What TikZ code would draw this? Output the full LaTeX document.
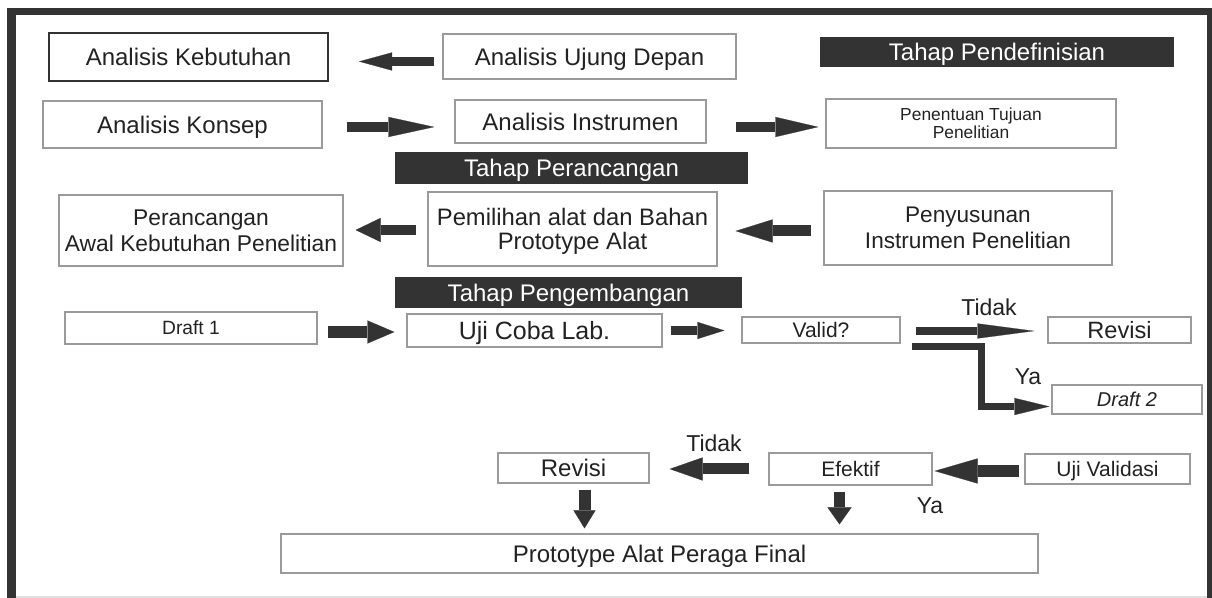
\documentclass[tikz,border=0pt]{standalone}
\usepackage{fontspec}
\setmainfont{Liberation Sans}
\usetikzlibrary{arrows.meta,calc}
\definecolor{inkgray}{HTML}{333333}
\definecolor{boxline}{HTML}{9A9A9A}
\definecolor{textgray}{HTML}{222222}
\begin{document}
\begin{tikzpicture}[x=0.5pt,y=-0.5pt,
  box/.style={draw=boxline,line width=0.6pt,fill=white,inner sep=0pt,text depth=0pt,text=textgray},
  bar/.style={fill=inkgray,text=white,inner sep=0pt,text depth=0pt,font=\fontsize{12}{14}\selectfont},
  big/.style={font=\fontsize{12}{14}\selectfont},
  mid/.style={font=\fontsize{10.5}{12}\selectfont},
  lbl/.style={inner sep=0pt,text=textgray,font=\fontsize{11.5}{13}\selectfont},
  blockarr/.style 2 args={color=inkgray,line width=5pt,-{Triangle[length=#1,width=#2,line width=0.1pt]}},
]
\useasboundingbox (0,0) rectangle (1212,598);
% frame
\fill[inkgray] (7,8) rectangle (1212,15);
\fill[inkgray] (7,8) rectangle (16,598);
\fill[inkgray] (1207,8) rectangle (1212,598);
\draw[gray!25,line width=0.6pt] (16,597) -- (1207,597);

% tahap pendefinisian
\node[box,big,draw=inkgray,line width=1pt,minimum width=139.5pt,minimum height=24pt] (keb) at (188.5,57) {Analisis Kebutuhan};
\node[box,big,minimum width=146.5pt,minimum height=22.5pt] (ujung) at (589.5,56.5) {Analisis Ujung Depan};
\node[bar,minimum width=177pt,minimum height=15pt] (defbar) at (997,52) {Tahap Pendefinisian};
\node[box,big,minimum width=139.5pt,minimum height=23.5pt] (konsep) at (182.5,124.5) {Analisis Konsep};
\node[box,big,minimum width=125.5pt,minimum height=21.5pt] (instr) at (580.5,121.5) {Analisis Instrumen};
\node[box,align=center,font=\fontsize{8.7}{9}\selectfont,minimum width=145pt,minimum height=24.5pt] (tujuan) at (971,123.5) {Penentuan Tujuan\\Penelitian};

% tahap perancangan
\node[bar,minimum width=176.5pt,minimum height=16pt] (ranbar) at (571.5,168) {Tahap Perancangan\hspace{11.5pt}};
\node[box,align=center,font=\fontsize{11.4}{13}\selectfont,minimum width=142pt,minimum height=35.5pt] (awal) at (201,230.5) {Perancangan\\Awal Kebutuhan Penelitian};
\node[box,align=center,font=\fontsize{11.9}{12}\selectfont,minimum width=144.5pt,minimum height=37pt] (pilih) at (572.5,229) {Pemilihan alat dan Bahan\\Prototype Alat};
\node[box,align=center,font=\fontsize{11.3}{13}\selectfont,minimum width=144pt,minimum height=37pt] (susun) at (968,228) {Penyusunan\\Instrumen Penelitian};

% tahap pengembangan
\node[bar,minimum width=173.5pt,minimum height=15.5pt] (kembar) at (568.5,292.5) {Tahap Pengembangan\hspace{6pt}};
\node[box,font=\fontsize{9.6}{11}\selectfont,minimum width=126pt,minimum height=16pt] (draft1) at (191,328) {Draft 1};
\node[box,font=\fontsize{12.5}{14}\selectfont,minimum width=127.5pt,minimum height=16.5pt] (ujilab) at (534.5,330.5) {Uji Coba Lab.};
\node[box,mid,minimum width=79pt,minimum height=13pt] (valid) at (821,330) {Valid?};
\node[box,font=\fontsize{11.8}{13}\selectfont,minimum width=71.5pt,minimum height=13pt] (revisi1) at (1119.5,330) {Revisi};
\node[box,font=\fontsize{10}{12}\selectfont\itshape,minimum width=75pt,minimum height=14.5pt] (draft2) at (1127,399.5) {Draft 2};
\node[box,big,minimum width=75.5pt,minimum height=15pt] (revisi2) at (573.5,468) {Revisi};
\node[box,mid,minimum width=81.5pt,minimum height=16pt] (efektif) at (850.5,469) {Efektif};
\node[box,mid,minimum width=82.5pt,minimum height=15pt] (ujival) at (1107.5,469) {Uji Validasi};
\node[box,big,minimum width=378.5pt,minimum height=19.5pt] (final) at (659.5,553.5) {Prototype Alat Peraga Final\hspace{27pt}};

\node[lbl] (tidaka) at (989,307) {Tidak};
\node[lbl] (yaa) at (1028,377) {Ya};
\node[lbl] (tidakb) at (714,443) {Tidak};
\node[lbl] (yab) at (930,506) {Ya};

% arrows
\draw[blockarr={16.5pt}{9pt},line width=4.5pt,shorten <=4pt,shorten >=15pt] ($(ujung.west)+(0,5)$) -- ($(keb.east|-ujung.west)+(0,5)$);
\draw[blockarr={23pt}{10pt},shorten <=12pt,shorten >=10pt] ($(konsep.east)+(0,2.5)$) -- ($(instr.west|-konsep.east)+(0,2.5)$);
\draw[blockarr={21.5pt}{10pt},shorten <=14.5pt,shorten >=3.5pt] ($(instr.east)+(0,5.5)$) -- ($(tujuan.west|-instr.east)+(0,5.5)$);
\draw[blockarr={12.5pt}{12pt},shorten <=5.5pt,shorten >=6pt] ($(pilih.west)+(0,1)$) -- ($(awal.east|-pilih.west)+(0,1)$);
\draw[blockarr={18.5pt}{11.5pt},line width=5.5pt,shorten <=6pt,shorten >=9pt] ($(susun.west)+(0,3)$) -- ($(pilih.east|-susun.west)+(0,3)$);
\draw[blockarr={13.5pt}{11.5pt},line width=6pt,shorten <=5pt,shorten >=6pt] ($(draft1.east)+(0,4)$) -- ($(ujilab.west|-draft1.east)+(0,4)$);
\draw[blockarr={13.5pt}{8.5pt},line width=4.5pt,shorten <=4pt,shorten >=8.5pt] (ujilab.east) -- (valid.west|-ujilab.east);
\draw[blockarr={28.5pt}{7.5pt},line width=4pt,shorten <=7.5pt,shorten >=6.5pt] ($(valid.east)+(0,1)$) -- ($(revisi1.west|-valid.east)+(0,1)$);
\draw[blockarr={17.5pt}{8.5pt},line width=3.5pt,line join=miter,shorten >=1pt] ($(valid.south east)+(11,2.5)$) -- ++(70,0) |- ($(draft2.west)+(0,7)$);
\draw[blockarr={21.5pt}{12.5pt},line width=6pt,shorten <=2.5pt,shorten >=1pt] ($(ujival.west)+(0,2)$) -- ($(efektif.east|-ujival.west)+(0,2)$);
\draw[blockarr={16.5pt}{11.5pt},line width=5.5pt,shorten <=9.5pt,shorten >=10pt] (efektif.west) -- (revisi2.east|-efektif.west);
\draw[blockarr={9pt}{11pt},line width=6pt,shorten <=3pt,shorten >=2.5pt] ($(revisi2.south)+(11,0)$) -- ($(revisi2.south|-final.north)+(11,0)$);
\draw[blockarr={8.5pt}{12pt},line width=5.5pt,shorten <=3pt,shorten >=4.5pt] ($(efektif.south)+(-11,0)$) -- ($(efektif.south|-final.north)+(-11,0)$);
\end{tikzpicture}
\end{document}
